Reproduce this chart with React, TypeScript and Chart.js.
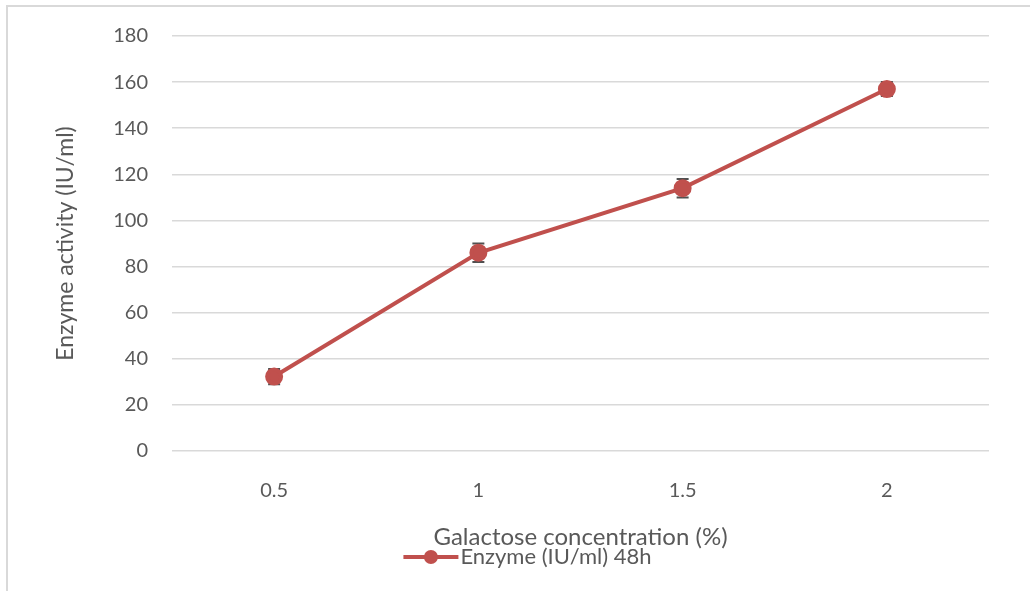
import React, { useEffect, useRef } from "react";
import { Chart, registerables } from "chart.js";

Chart.register(...registerables);

const categories = ["0.5", "1", "1.5", "2"];
const enzymeValues = [32.3, 86, 114, 157];
const enzymeErrors = [3.3, 4, 4, 3];
const seriesLabel = "Enzyme (IU/ml) 48h";
const xTitle = "Galactose concentration (%)";
const yTitle = "Enzyme activity (IU/ml)";

const RED = "#C0504D";
const TEXT = "#595959";
const FONT = "Lato, 'Open Sans', sans-serif";

const framePlugin = {
  id: "frame",
  beforeDraw(chart: any) {
    const ctx = chart.ctx;
    ctx.save();
    ctx.fillStyle = "#ffffff";
    ctx.fillRect(0, 0, chart.width, chart.height);
    ctx.strokeStyle = "#d9d9d9";
    ctx.lineWidth = 2;
    ctx.beginPath();
    ctx.moveTo(7, chart.height);
    ctx.lineTo(7, 6);
    ctx.lineTo(chart.width, 6);
    ctx.stroke();
    ctx.restore();
  },
};

const errorBarPlugin = {
  id: "errorBars",
  beforeDatasetsDraw(chart: any) {
    const ctx = chart.ctx;
    const meta = chart.getDatasetMeta(0);
    const yScale = chart.scales.y;
    ctx.save();
    ctx.strokeStyle = "#505050";
    ctx.lineWidth = 2;
    meta.data.forEach((pt: any, i: number) => {
      const v = enzymeValues[i];
      const e = enzymeErrors[i];
      const yTop = yScale.getPixelForValue(v + e);
      const yBot = yScale.getPixelForValue(v - e);
      const x = pt.x;
      ctx.beginPath();
      ctx.moveTo(x, yTop);
      ctx.lineTo(x, yBot);
      ctx.moveTo(x - 6, yTop);
      ctx.lineTo(x + 6, yTop);
      ctx.moveTo(x - 6, yBot);
      ctx.lineTo(x + 6, yBot);
      ctx.stroke();
    });
    ctx.restore();
  },
};

const legendMarkerPlugin = {
  id: "legendMarker",
  afterDraw(chart: any) {
    const legend = chart.legend;
    if (!legend || !legend.legendHitBoxes || !legend.legendHitBoxes.length) return;
    const box = legend.legendHitBoxes[0];
    const ctx = chart.ctx;
    const cy = box.top + box.height / 2;
    const x0 = box.left;
    const w = 55;
    ctx.save();
    ctx.strokeStyle = RED;
    ctx.lineWidth = 4;
    ctx.beginPath();
    ctx.moveTo(x0, cy);
    ctx.lineTo(x0 + w, cy);
    ctx.stroke();
    ctx.fillStyle = RED;
    ctx.beginPath();
    ctx.arc(x0 + w / 2, cy, 7, 0, Math.PI * 2);
    ctx.fill();
    ctx.restore();
  },
};

export default function App() {
  const ref = useRef<HTMLCanvasElement>(null);
  useEffect(() => {
    document.body.style.margin = "0";
    const chart = new Chart(ref.current!, {
      type: "line",
      data: {
        labels: categories,
        datasets: [
          {
            label: seriesLabel,
            data: enzymeValues,
            borderColor: RED,
            backgroundColor: RED,
            borderWidth: 4,
            pointRadius: 7,
            pointBackgroundColor: RED,
            pointBorderColor: RED,
            tension: 0,
          },
        ],
      },
      options: {
        animation: false,
        responsive: false,
        maintainAspectRatio: false,
        layout: { padding: { left: 66, right: 41, top: 31, bottom: 13 } },
        plugins: {
          legend: {
            position: "bottom",
            labels: {
              color: TEXT,
              font: { family: FONT, size: 22 },
              boxWidth: 46,
              boxHeight: 14,
              padding: 0,
              generateLabels: () => [
                {
                  text: seriesLabel,
                  fillStyle: "rgba(0,0,0,0)",
                  strokeStyle: "rgba(0,0,0,0)",
                  lineWidth: 0,
                  datasetIndex: 0,
                  fontColor: TEXT,
                } as any,
              ],
            },
          },
          tooltip: { enabled: false },
        },
        scales: {
          x: {
            offset: true,
            grid: { display: false, drawTicks: false },
            border: { display: false },
            ticks: { color: TEXT, font: { family: FONT, size: 20 }, padding: 28 },
            title: {
              display: true,
              text: xTitle,
              color: TEXT,
              font: { family: FONT, size: 24 },
              padding: { top: 0, bottom: -6 },
            },
            afterFit: (s: any) => {
              s.height = 95;
            },
          },
          y: {
            min: 0,
            max: 180,
            ticks: { stepSize: 20, color: TEXT, font: { family: FONT, size: 20 }, padding: 24 },
            grid: { color: "#d9d9d9", lineWidth: 1.5, drawTicks: false },
            border: { display: false },
            title: {
              display: true,
              text: yTitle,
              color: TEXT,
              font: { family: FONT, size: 23 },
              padding: { top: -14, bottom: 0 },
            },
            afterFit: (s: any) => {
              s.width = 106;
            },
          },
        },
      },
      plugins: [framePlugin, errorBarPlugin, legendMarkerPlugin],
    });
    return () => chart.destroy();
  }, []);
  return <canvas ref={ref} width={1030} height={591} style={{ display: "block" }} />;
}
